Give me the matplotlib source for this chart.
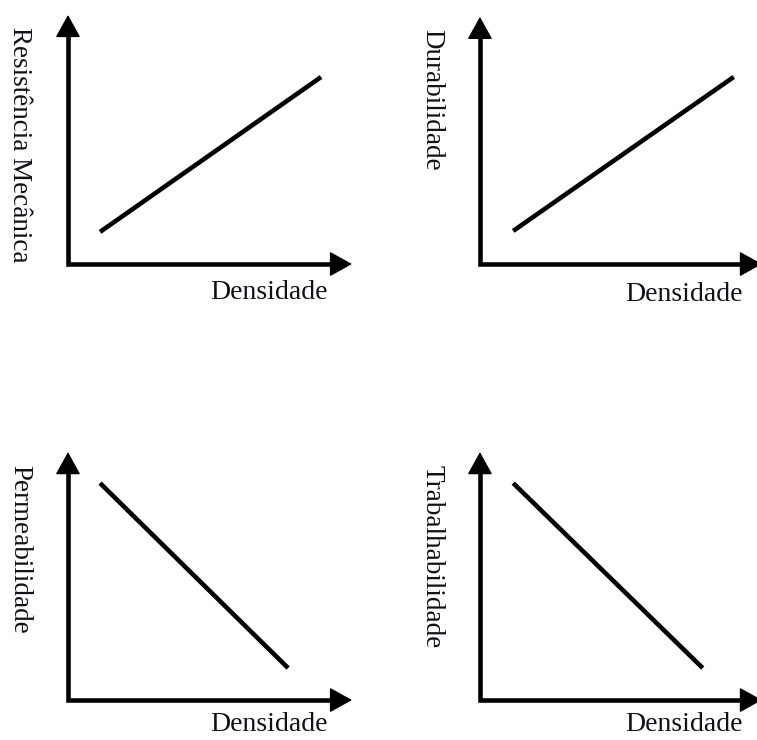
import matplotlib.pyplot as plt

plt.rcParams['font.family'] = ['Liberation Serif', 'DejaVu Serif']

# y-axis quantity of each panel (all plotted against density)
y_labels = ['Resistência Mecânica', 'Durabilidade', 'Permeabilidade', 'Trabalhabilidade']
x_label = 'Densidade'

# qualitative trend lines: (x_start, x_end), (y_start, y_end) in axis units 0..1
line_x = [(0.113, 0.891), (0.118, 0.900), (0.113, 0.775), (0.118, 0.790)]
line_y = [(0.129, 0.751), (0.134, 0.757), (0.875, 0.129), (0.875, 0.129)]

# panel boxes in figure fraction: left, bottom, width, height
boxes = [
    (0.0898, 0.6432, 0.3752, 0.3365),
    (0.6340, 0.6432, 0.3725, 0.3340),
    (0.0898, 0.0540, 0.3752, 0.3350),
    (0.6340, 0.0540, 0.3725, 0.3350),
]
xlabel_y = [-0.116, -0.125, -0.10, -0.10]
xlabel_x = [0.708, 0.722, 0.708, 0.722]

fig = plt.figure(figsize=(7.57, 7.40), dpi=100)

for i, box in enumerate(boxes):
    ax = fig.add_axes(box)
    ax.set_xlim(0, 1)
    ax.set_ylim(0, 1)
    ax.axis('off')

    # L-shaped axes
    ax.plot([0, 0, 0.95], [0.95, 0, 0], color='black', lw=3.3,
            solid_joinstyle='miter', solid_capstyle='projecting',
            transform=ax.transAxes, clip_on=False)
    head = dict(arrowstyle='-|>,head_length=0.72,head_width=0.4',
                mutation_scale=20, color='black', lw=1,
                shrinkA=0, shrinkB=0)
    ax.annotate('', xy=(0, 1), xytext=(0, 0.92), xycoords='axes fraction',
                arrowprops=head, annotation_clip=False)
    ax.annotate('', xy=(1, 0), xytext=(0.92, 0), xycoords='axes fraction',
                arrowprops=head, annotation_clip=False)

    # trend line
    ax.plot(line_x[i], line_y[i], color='black', lw=3.3, solid_capstyle='butt')

    ax.text(xlabel_x[i], xlabel_y[i], x_label, transform=ax.transAxes,
            ha='center', va='center', fontsize=20, color='#111118',
            clip_on=False)
    ax.text(-0.17, 0.95, y_labels[i], transform=ax.transAxes,
            ha='center', va='top', rotation=270, fontsize=19.5,
            color='#111118', clip_on=False)

fig.savefig('out.png', dpi=100, facecolor='white')
